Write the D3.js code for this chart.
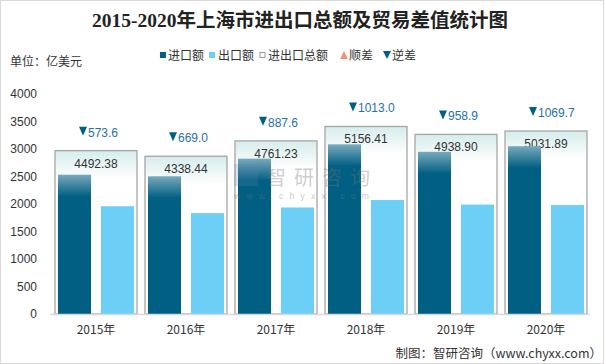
<!DOCTYPE html>
<html><head><meta charset="utf-8">
<script src="https://cdn.jsdelivr.net/npm/d3@7/dist/d3.min.js"></script>
<style>body{margin:0;background:#fff}svg{display:block}</style>
</head><body>
<script>
const years = ["2015年","2016年","2017年","2018年","2019年","2020年"];
const totals = [4492.38, 4338.44, 4761.23, 5156.41, 4938.90, 5031.89];
const diffs = [573.6, 669.0, 887.6, 1013.0, 958.9, 1069.7]; // 逆差
const imports = [2533.0, 2503.7, 2824.4, 3084.7, 2948.9, 3050.8];
const exports_ = [1959.4, 1834.7, 1936.8, 2071.7, 1990.0, 1981.1];
const yTicks = [0,500,1000,1500,2000,2500,3000,3500,4000];

const W=606,H=364;
const svg=d3.select("body").append("svg").attr("width",W).attr("height",H);
const defs=svg.append("defs");

svg.append("rect").attr("x",0.5).attr("y",0.5).attr("width",W-3).attr("height",H-1).attr("fill","none").attr("stroke","#d9d9d9");

const x=d3.scaleBand().domain(years).range([51,591]).paddingInner(0).paddingOuter(0);
const y=d3.scaleLinear().domain([0,4000]).range([314,94]);
const y2=d3.scaleLinear().domain([0,6050]).range([314,94]);

svg.append("text").attr("x",300).attr("y",27).attr("text-anchor","middle")
 .attr("font-family","'Liberation Serif','Noto Sans CJK SC',serif").attr("font-weight","bold")
 .attr("font-size",19.5).attr("fill","#222").text("2015-2020年上海市进出口总额及贸易差值统计图");

const fs="'Noto Sans CJK SC','Microsoft YaHei',sans-serif";
svg.append("text").attr("x",10).attr("y",66).attr("font-family",fs).attr("font-size",12).attr("fill","#333").text("单位：亿美元");

// legend
const lg=svg.append("g").attr("font-family",fs).attr("font-size",12).attr("fill","#333");
lg.append("rect").attr("x",160).attr("y",52).attr("width",6).attr("height",6).attr("fill","#005f82");
lg.append("text").attr("x",168).attr("y",60).text("进口额");
lg.append("rect").attr("x",209).attr("y",52).attr("width",6).attr("height",6).attr("fill","#6dcff6");
lg.append("text").attr("x",218).attr("y",60).text("出口额");
lg.append("rect").attr("x",260).attr("y",52.5).attr("width",5).attr("height",5).attr("fill","#fff").attr("stroke","#999");
lg.append("text").attr("x",268).attr("y",60).text("进出口总额");
lg.append("path").attr("d","M340,59 L344,51 L348,59 Z").attr("fill","#f0937b");
lg.append("text").attr("x",349).attr("y",60).text("顺差");
lg.append("path").attr("d","M383,51 L391,51 L387,59 Z").attr("fill","#005f82");
lg.append("text").attr("x",392).attr("y",60).text("逆差");

// y axis
const ya=svg.append("g").attr("transform","translate(37,0)").call(d3.axisLeft(y).tickValues(yTicks).tickFormat(d3.format("d")).tickSize(0).tickPadding(0));
ya.select(".domain").remove();
ya.selectAll("text").attr("font-family","'Liberation Sans',Arial,sans-serif").attr("font-size",12).attr("fill","#333");

const grp=svg.append("g");
years.forEach((yr,i)=>{
  const c=x(yr)+x.bandwidth()/2;
  const bt=y2(totals[i]);
  const bid="bg"+i;
  const bg=defs.append("linearGradient").attr("id",bid).attr("gradientUnits","userSpaceOnUse").attr("x1",0).attr("y1",bt).attr("x2",0).attr("y2",bt+28);
  bg.append("stop").attr("offset",0).attr("stop-color","#d6ecec");
  bg.append("stop").attr("offset",1).attr("stop-color","#ffffff");
  grp.append("rect").attr("x",c-41).attr("y",bt).attr("width",82).attr("height",314-bt)
    .attr("fill","url(#"+bid+")").attr("stroke","#a6a6a6").attr("stroke-width",1.3);
  grp.append("text").attr("x",c).attr("y",bt+17).attr("text-anchor","middle").attr("font-family","'Liberation Sans',Arial,sans-serif")
    .attr("font-size",12).attr("fill","#333").text(totals[i].toFixed(2));
  const it=y(imports[i]);
  const gid="ig"+i;
  const gg=defs.append("linearGradient").attr("id",gid).attr("gradientUnits","userSpaceOnUse").attr("x1",0).attr("y1",it).attr("x2",0).attr("y2",it+22);
  gg.append("stop").attr("offset",0).attr("stop-color","#78a9bc");
  gg.append("stop").attr("offset",1).attr("stop-color","#005f82");
  grp.append("rect").attr("x",c-38).attr("y",it).attr("width",33).attr("height",314-it).attr("fill","url(#"+gid+")");
  const et=y(exports_[i]);
  grp.append("rect").attr("x",c+5).attr("y",et).attr("width",33).attr("height",314-et).attr("fill","#6dcff6");
  const ly=bt-18;
  grp.append("path").attr("d",`M${c-17},${ly-6} L${c-9},${ly-6} L${c-13},${ly+3} Z`).attr("fill","#005f82");
  grp.append("text").attr("x",c-8).attr("y",ly+4).attr("font-family","'Liberation Sans',Arial,sans-serif")
    .attr("font-size",12).attr("fill","#1f70a8").text(diffs[i].toFixed(1));
});

// watermark (on top, translucent)
svg.append("rect").attr("x",234).attr("y",164).attr("width",24).attr("height",22).attr("fill","#5a7fa8").attr("opacity",0.22);
svg.append("text").attr("x",266).attr("y",185).attr("font-family",fs).attr("font-size",20)
 .attr("fill","#777").attr("opacity",0.35).attr("letter-spacing",8).text("智研咨询");
svg.append("text").attr("x",234).attr("y",199).attr("font-family","'Liberation Sans',sans-serif").attr("font-size",8.5)
 .attr("fill","#777").attr("opacity",0.4).attr("letter-spacing",6.2).text("www.chyxx.com");

// x axis
const xa=svg.append("g").attr("transform","translate(0,314.5)").call(d3.axisBottom(x).tickSize(0).tickPadding(11));
xa.select(".domain").attr("stroke","#d9d9d9").attr("stroke-width",1.3).attr("d","M50,0H590");
xa.selectAll("text").attr("font-family",fs).attr("font-size",12).attr("fill","#333");

svg.append("text").attr("x",602).attr("y",358).attr("text-anchor","end").attr("font-family",fs).attr("font-size",12.5)
 .attr("fill","#333").text("制图：智研咨询（www.chyxx.com）");
</script>
</body></html>
